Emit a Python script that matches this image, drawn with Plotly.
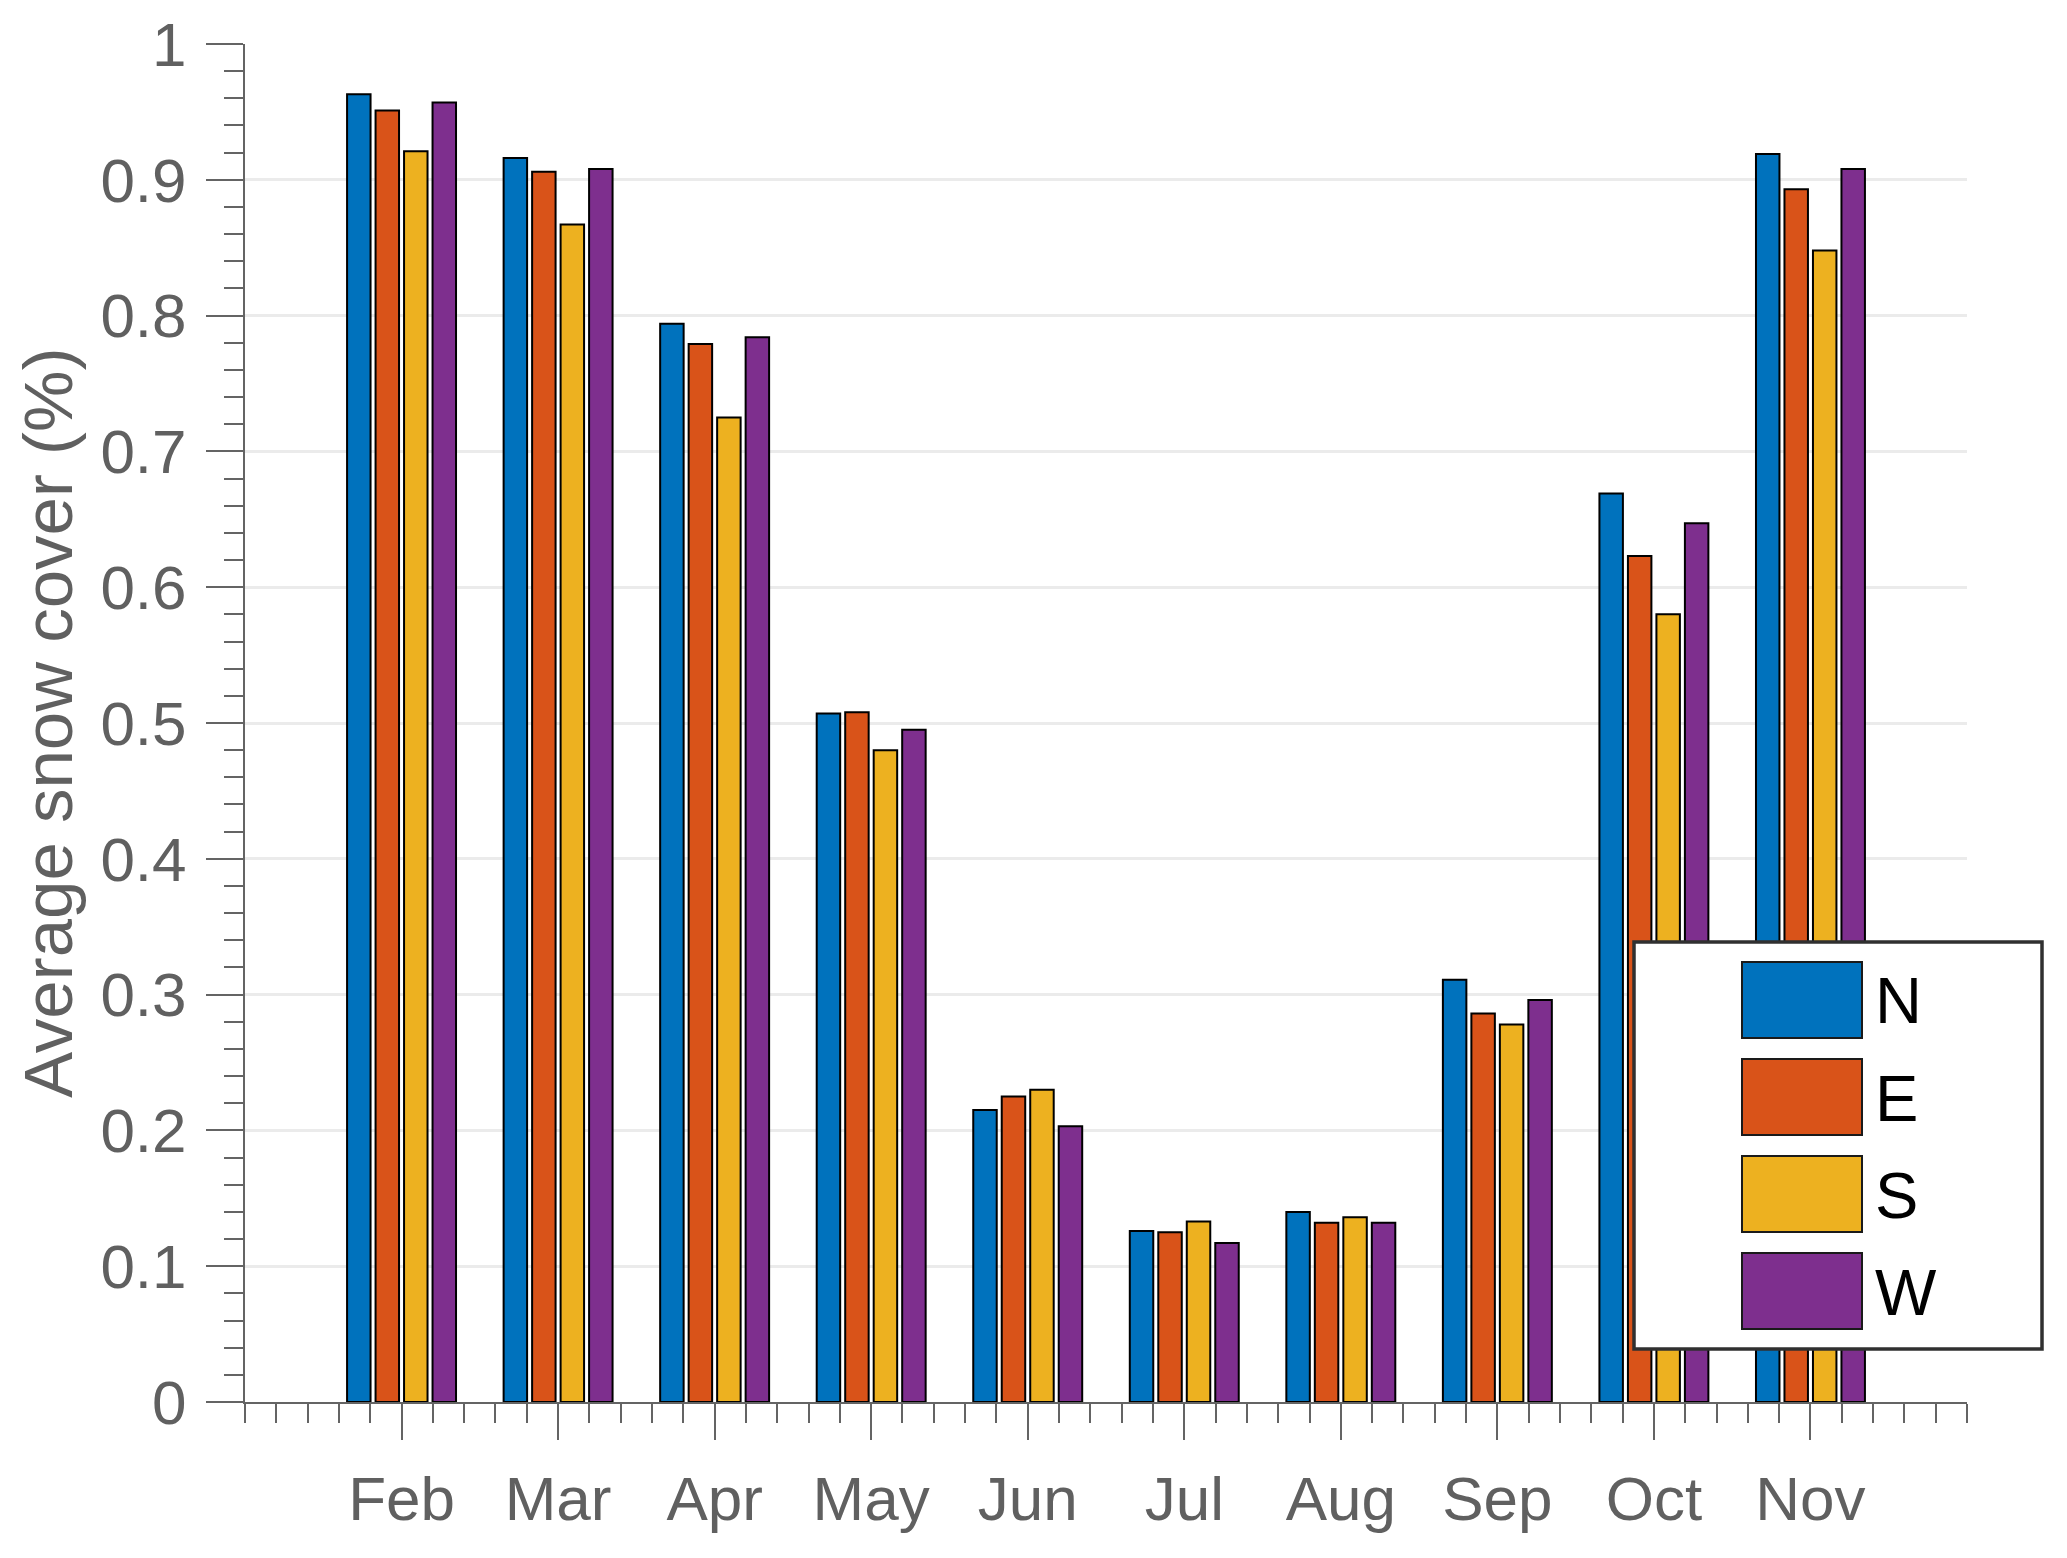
import plotly.graph_objects as go

# ---- data ----
months = ["Feb", "Mar", "Apr", "May", "Jun", "Jul", "Aug", "Sep", "Oct", "Nov"]
month_pos = [2, 3, 4, 5, 6, 7, 8, 9, 10, 11]
series_names = ["N", "E", "S", "W"]
N_vals = [0.963, 0.916, 0.794, 0.507, 0.215, 0.126, 0.140, 0.311, 0.669, 0.919]
E_vals = [0.951, 0.906, 0.779, 0.508, 0.225, 0.125, 0.132, 0.286, 0.623, 0.893]
S_vals = [0.921, 0.867, 0.725, 0.480, 0.230, 0.133, 0.136, 0.278, 0.580, 0.848]
W_vals = [0.957, 0.908, 0.784, 0.495, 0.203, 0.117, 0.132, 0.296, 0.647, 0.908]
y_ticks = [0, 0.1, 0.2, 0.3, 0.4, 0.5, 0.6, 0.7, 0.8, 0.9, 1]
y_labels = ["0", "0.1", "0.2", "0.3", "0.4", "0.5", "0.6", "0.7", "0.8", "0.9", "1"]

colors = ["#0072BD", "#D95319", "#EDB120", "#7E2F8E"]
all_vals = [N_vals, E_vals, S_vals, W_vals]

W, H = 2067, 1558
L, R, T, B = 245, 1967, 44, 1402
FONT = "Liberation Sans, Arial, sans-serif"
AX = "#646464"

def px(x):
    return (x - L) / (R - L)

def py(y):
    return (B - y) / (B - T)

fig = go.Figure()
for name, vals, c in zip(series_names, all_vals, colors):
    fig.add_trace(go.Bar(
        x=month_pos, y=vals, name=name,
        marker=dict(color=c, line=dict(color="black", width=2)),
        showlegend=False,
    ))

# custom legend (big swatches like the reference)
shapes = [dict(type="rect", xref="paper", yref="paper",
               x0=px(1634), x1=px(2042), y0=py(1349), y1=py(942),
               fillcolor="white", line=dict(color="#303030", width=3.5), layer="above")]
annotations = []
for i, (name, c) in enumerate(zip(series_names, colors)):
    top = 962 + 97 * i
    shapes.append(dict(type="rect", xref="paper", yref="paper",
                       x0=px(1742), x1=px(1862), y0=py(top + 76), y1=py(top),
                       fillcolor=c, line=dict(color="#1a1a1a", width=2), layer="above"))
    annotations.append(dict(xref="paper", yref="paper", x=px(1873), y=py(top + 39),
                            text=name, showarrow=False, xanchor="left", yanchor="middle",
                            font=dict(family=FONT, size=65, color="black")))

annotations.append(dict(xref="paper", yref="paper", x=px(48), y=0.5,
                        text="Average snow cover (%)", textangle=-90, showarrow=False,
                        xanchor="center", yanchor="middle",
                        font=dict(family=FONT, size=69, color="#606060")))

fig.update_layout(
    width=W, height=H,
    margin=dict(l=L, r=W - R, t=T, b=H - B, pad=0),
    paper_bgcolor="white", plot_bgcolor="white",
    barmode="group", bargap=0.272, bargroupgap=0.176,
    font=dict(family=FONT, color="#606060"),
    shapes=shapes, annotations=annotations,
    showlegend=False,
)
fig.update_xaxes(
    range=[1, 12], tickmode="array", tickvals=month_pos, ticktext=months,
    ticks="outside", ticklen=36, tickwidth=2, tickcolor=AX, automargin=False,
    showline=True, linecolor=AX, linewidth=2, showgrid=False, zeroline=False,
    tickfont=dict(family=FONT, size=62, color="#606060"),
    ticklabelstandoff=6,
    minor=dict(tickmode="linear", tick0=1, dtick=0.2, ticks="outside", ticklen=19,
               tickwidth=2, tickcolor=AX, showgrid=False),
)
fig.update_yaxes(
    range=[0, 1], tickmode="array", tickvals=y_ticks, ticktext=y_labels,
    ticks="outside", ticklen=37, tickwidth=2, tickcolor=AX, automargin=False,
    showline=True, linecolor=AX, linewidth=2,
    showgrid=True, gridcolor="#ebebeb", gridwidth=3, zeroline=False,
    tickfont=dict(family=FONT, size=62, color="#606060"),
    ticklabelstandoff=7,
    minor=dict(tickmode="linear", tick0=0, dtick=0.02, ticks="outside", ticklen=19,
               tickwidth=2, tickcolor=AX, showgrid=False),
)

fig.write_html("out.html", config={"displayModeBar": False},
               post_script="document.body.style.margin='0';document.body.style.overflow='hidden';")
